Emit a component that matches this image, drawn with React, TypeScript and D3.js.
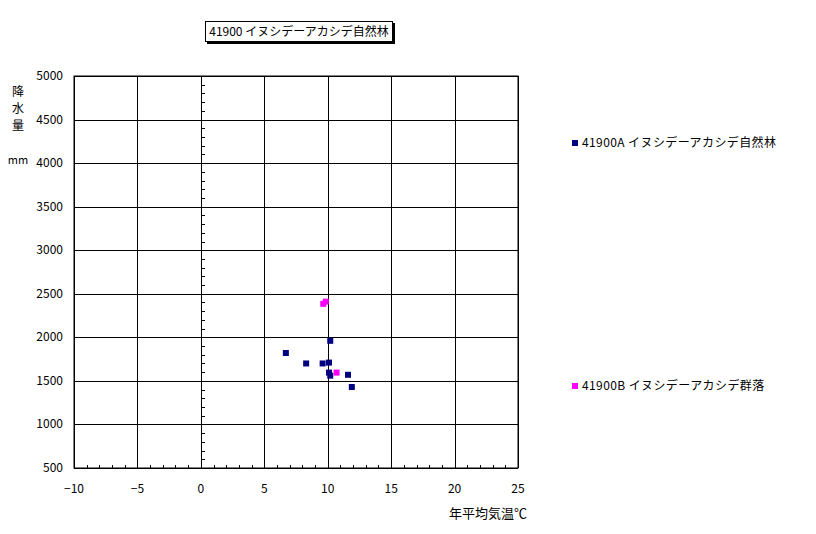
import React from "react";
import * as d3 from "d3";

const title = "41900 イヌシデーアカシデ自然林";
const seriesNames = ["41900A イヌシデーアカシデ自然林", "41900B イヌシデーアカシデ群落"];
const seriesColors = ["#000080", "#FF00FF"];
const seriesA_x = [10.2, 6.7, 8.3, 9.6, 10.1, 10.1, 10.2, 11.6, 11.9];
const seriesA_y = [1960, 1820, 1700, 1700, 1710, 1595, 1560, 1570, 1430];
const seriesB_x = [9.65, 9.85, 10.7];
const seriesB_y = [2385, 2410, 1595];
const xTicks = [-10, -5, 0, 5, 10, 15, 20, 25];
const yTicks = [500, 1000, 1500, 2000, 2500, 3000, 3500, 4000, 4500, 5000];
const yTitleChars = ["降", "水", "量"];
const yUnit = "mm";
const xTitle = "年平均気温℃";

const FONT = "'Noto Sans CJK JP', 'DejaVu Sans', sans-serif";

export default function App() {
  const W = 816, H = 534;
  const L = 74, R = 518, T = 76, B = 468;
  const x = d3.scaleLinear().domain([-10, 25]).range([L, R]);
  const y = d3.scaleLinear().domain([500, 5000]).range([B, T]);
  const minorX = d3.range(-10, 26, 1);
  const minorY = d3.range(500, 5001, 100);
  const sq = 6;
  const series = [
    { xs: seriesA_x, ys: seriesA_y, color: seriesColors[0] },
    { xs: seriesB_x, ys: seriesB_y, color: seriesColors[1] },
  ];
  return (
    <svg width={W} height={H} style={{ position: "absolute", left: 0, top: 0, background: "#fff" }} fontFamily={FONT}>
      <rect x={0} y={0} width={W} height={H} fill="#fff" />
      {/* title box */}
      <rect x={207} y={23} width={188} height={21} fill="#000" />
      <rect x={205.5} y={21.5} width={187} height={20} fill="#fff" stroke="#000" strokeWidth={1} />
      <text x={299} y={36} textAnchor="middle" fontSize={12} fill="#000">{title}</text>
      {/* plot */}
      <rect x={L} y={T} width={R - L} height={B - T} fill="#fff" stroke="#000" strokeWidth={1} />
      {yTicks.map((v) => (
        <line key={"gy" + v} x1={L} x2={R} y1={Math.round(y(v)) + 0.5} y2={Math.round(y(v)) + 0.5} stroke="#000" strokeWidth={1} />
      ))}
      {xTicks.map((v) => (
        <line key={"gx" + v} x1={Math.round(x(v)) + 0.5} x2={Math.round(x(v)) + 0.5} y1={T} y2={B} stroke="#000" strokeWidth={1} />
      ))}
      {minorX.map((v) => (
        <line key={"mx" + v} x1={Math.round(x(v)) + 0.5} x2={Math.round(x(v)) + 0.5} y1={B - 3} y2={B} stroke="#000" strokeWidth={1} />
      ))}
      {minorY.map((v) => (
        <line key={"my" + v} x1={Math.round(x(0))} x2={Math.round(x(0)) + 4} y1={Math.round(y(v)) + 0.5} y2={Math.round(y(v)) + 0.5} stroke="#000" strokeWidth={1} />
      ))}
      {yTicks.map((v) => (
        <text key={"ty" + v} x={63} y={y(v) + 4} textAnchor="end" fontSize={12} fill="#000">{v}</text>
      ))}
      {xTicks.map((v) => (
        <text key={"tx" + v} x={x(v)} y={493} textAnchor="middle" fontSize={12} fill="#000">{v < 0 ? "\u2212" + Math.abs(v) : v}</text>
      ))}
      {yTitleChars.map((c, i) => (
        <text key={"yc" + i} x={18} y={96 + i * 17} textAnchor="middle" fontSize={12} fill="#000">{c}</text>
      ))}
      <text x={18} y={164} textAnchor="middle" fontSize={11} fill="#000">{yUnit}</text>
      <text x={527} y={518} textAnchor="end" fontSize={13} fill="#000">{xTitle}</text>
      {/* data */}
      {series.map((s, si) =>
        s.xs.map((xv, i) => (
          <rect key={"p" + si + "-" + i} x={x(xv) - sq / 2} y={y(s.ys[i]) - sq / 2} width={sq} height={sq} fill={s.color} />
        ))
      )}
      {/* legend */}
      {seriesNames.map((n, i) => (
        <g key={"lg" + i} transform={`translate(0, ${i === 0 ? 143 : 386})`}>
          <rect x={572} y={-3} width={6} height={6} fill={seriesColors[i]} />
          <text x={582} y={4} fontSize={12} letterSpacing={0.4} fill="#000">{n}</text>
        </g>
      ))}
    </svg>
  );
}
